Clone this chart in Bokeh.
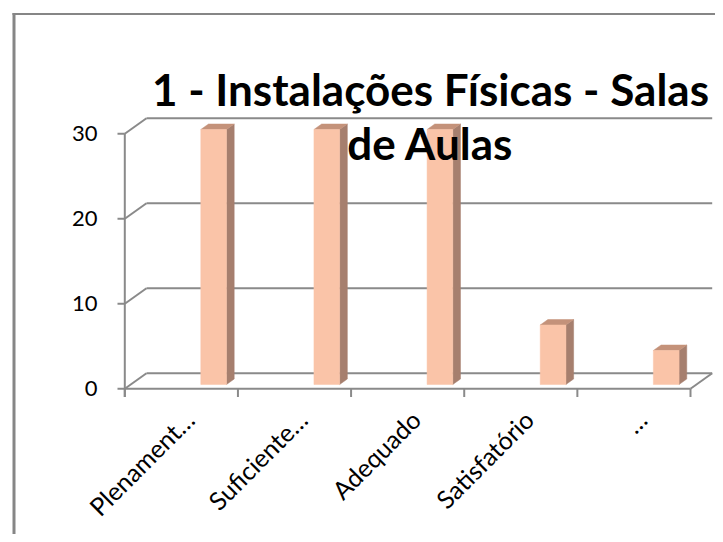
import math
from bokeh.plotting import figure
from bokeh.models import Range1d
from bokeh.embed import file_html
from bokeh.resources import INLINE
from bokeh.core.properties import value

# ---------------- data ----------------
TITLE_LINES = ["1 - Instalações Físicas - Salas", "de Aulas"]
categories = ["Plenament…", "Suficiente…", "Adequado", "Satisfatório", "…"]
counts = [30, 30, 30, 7, 4]
y_ticks = [0, 10, 20, 30]

# ---------------- layout (page pixels) ----------------
W, H = 715, 534
PAGE = 0
X0, Y0 = 124.3, 388.3            # front-plane origin (category 0 / value 0)
CAT = (690.0 - X0) / len(categories)   # px per category
UNIT = 8.5                        # px per value unit

def dxp(px):   # horizontal pixel offset -> data units
    return px / CAT

def dyp(px):   # upward pixel offset -> data units
    return px / UNIT

def px2x(px):
    return (px - X0) / CAT

def py2y(py):
    return (Y0 - py) / UNIT

DX, DY = dxp(21.7), dyp(15.5)      # wall depth
BX, BY = dxp(7.7), dyp(5.5)        # bar depth
BAR_L, BAR_R = dxp(76.0), dxp(101.7)
BAR_LIFT = dyp(4.3)

GRAY = "#8a8a8a"
FRONT = "#fac4a8"
SIDE = "#a67f6e"
TOP = "#c4927a"
FONT = value("Lato")

p = figure(width=W, height=H,
           x_range=Range1d(px2x(PAGE), px2x(PAGE + W)),
           y_range=Range1d(py2y(PAGE + H), py2y(PAGE)),
           x_axis_type=None, y_axis_type=None,
           toolbar_location=None, output_backend="svg",
           min_border=0, outline_line_color=None,
           background_fill_color="white", border_fill_color="white")

# chart area border
p.segment(x0=[px2x(13.5)], y0=[py2y(12.5)], x1=[px2x(13.5)], y1=[py2y(PAGE + H)],
          line_color="#868686", line_width=3)
p.segment(x0=[px2x(12)], y0=[py2y(13.5)], x1=[px2x(PAGE + W)], y1=[py2y(13.5)],
          line_color="#868686", line_width=2)

n = len(categories)
# back-wall gridlines and side-wall diagonals
p.segment(x0=[0] * len(y_ticks), y0=y_ticks,
          x1=[DX] * len(y_ticks), y1=[v + DY for v in y_ticks],
          line_color=GRAY, line_width=2)
p.segment(x0=[DX] * len(y_ticks), y0=[v + DY for v in y_ticks],
          x1=[n + DX] * len(y_ticks), y1=[v + DY for v in y_ticks],
          line_color=GRAY, line_width=2)
# floor front edge and right edge
p.segment(x0=[0, n], y0=[0, 0], x1=[n, n + DX], y1=[0, DY],
          line_color=GRAY, line_width=2)

# 3D bars
lefts = [i + BAR_L for i in range(n)]
rights = [i + BAR_R for i in range(n)]
bots = [BAR_LIFT] * n
tops = [v + BAR_LIFT for v in counts]
side_xs = [[r, r + BX, r + BX, r] for r in rights]
side_ys = [[t, t + BY, b + BY, b] for t, b in zip(tops, bots)]
top_xs = [[l, l + BX, r + BX, r] for l, r in zip(lefts, rights)]
top_ys = [[t, t + BY, t + BY, t] for t in tops]
p.patches(xs=side_xs, ys=side_ys, fill_color=SIDE, line_color=SIDE, line_width=0.5)
p.patches(xs=top_xs, ys=top_ys, fill_color=TOP, line_color=TOP, line_width=0.5)
p.quad(left=lefts, right=rights, bottom=bots, top=tops,
       fill_color=FRONT, line_color=FRONT, line_width=0.5)

# value axis line and ticks
p.segment(x0=[0], y0=[max(y_ticks)], x1=[0], y1=[-dyp(8.2)], line_color=GRAY, line_width=2)
p.segment(x0=[-dxp(7.3)] * len(y_ticks), y0=y_ticks, x1=[0] * len(y_ticks), y1=y_ticks,
          line_color=GRAY, line_width=2)
# category tick marks
p.segment(x0=list(range(n + 1)), y0=[0] * (n + 1), x1=list(range(n + 1)),
          y1=[-dyp(8.2)] * (n + 1), line_color=GRAY, line_width=2)

# value tick labels
p.text(x=[px2x(97)] * len(y_ticks), y=y_ticks, text=[str(v) for v in y_ticks],
       text_align="right", text_baseline="middle", text_font=FONT,
       text_font_size="22px", text_color="black")

# category labels (rotated 45°)
p.text(x=[i + 0.5 + dxp(8) for i in range(n)], y=[-dyp(26)] * n, text=categories,
       angle=math.pi / 4, text_align="right", text_baseline="middle",
       text_font=FONT, text_font_size="25px", text_color="black")

# title
p.text(x=[px2x(430)] * 2, y=[py2y(88), py2y(142.7)], text=TITLE_LINES,
       text_align="center", text_baseline="alphabetic", text_font=FONT,
       text_font_style="bold", text_font_size="44px", text_color="black")

open("out.html", "w").write(file_html(p, INLINE))
